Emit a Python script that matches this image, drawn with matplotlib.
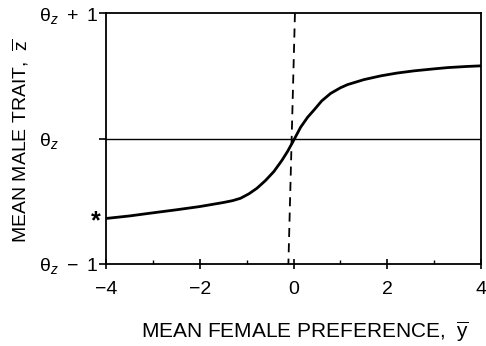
import matplotlib
matplotlib.use("Agg")
import matplotlib.pyplot as plt
from matplotlib.ticker import FixedLocator

plt.rcParams['font.family'] = ['Liberation Sans', 'DejaVu Sans']
plt.rcParams['mathtext.fontset'] = 'custom'
plt.rcParams['mathtext.rm'] = 'Liberation Sans'
plt.rcParams['mathtext.it'] = 'Liberation Sans:italic'
plt.rcParams['mathtext.bf'] = 'Liberation Sans:bold'

# Curve: mean male trait vs mean female preference
pref = [-4.0, -3.5, -3.06, -2.5, -2.0, -1.5, -1.3, -1.13, -0.95, -0.78, -0.6, -0.42,
        -0.25, -0.13, 0.0, 0.15, 0.3, 0.43, 0.6, 0.79, 1.0, 1.15, 1.5, 1.86, 2.2,
        2.57, 3.0, 3.29, 3.7, 4.0]
trait = [-0.637, -0.617, -0.595, -0.568, -0.542, -0.51, -0.495, -0.476, -0.44, -0.396,
         -0.335, -0.263, -0.175, -0.104, -0.016, 0.09, 0.17, 0.225, 0.30, 0.36, 0.405,
         0.43, 0.47, 0.50, 0.522, 0.54, 0.556, 0.566, 0.575, 0.58]

# Dashed line end points
dash_x = [0.03, -0.11]
dash_y = [1.0, -1.0]

xticks = [-4, -2, 0, 2, 4]
xticklabels = ['\u22124', '\u22122', '0', '2', '4']
xminor = [-3, -1, 1, 3]
yticks = [-1, 0, 1]
yticklabels = ['$\\mathrm{\u03b8}_z\\ \u2212\\ 1$', '$\\mathrm{\u03b8}_z$',
               '$\\mathrm{\u03b8}_z\\ +\\ 1$']
star_y = -0.66

fig = plt.figure(figsize=(4.86, 3.46), dpi=100)
ax = fig.add_axes([0.218, 0.237, 0.772, 0.725])

ax.plot(pref, trait, color='black', lw=2.0, solid_capstyle='butt')
ax.plot(dash_x, dash_y, color='black', lw=1.3, linestyle=(0, (5, 3.5)))
ax.axhline(0, color='black', lw=1.0)

ax.set_xlim(-4, 4)
ax.set_ylim(-1, 1)
ax.set_xticks(xticks)
ax.set_xticklabels(xticklabels, fontsize=14)
ax.xaxis.set_minor_locator(FixedLocator(xminor))
ax.set_yticks(yticks)
ax.set_yticklabels(yticklabels, fontsize=14)

ax.tick_params(axis='x', which='major', direction='inout', length=7, width=1.2, pad=9)
ax.tick_params(axis='y', which='major', direction='out', length=5, width=1.2, pad=43)
ax.tick_params(axis='x', which='minor', direction='in', length=3, width=1.0)
for lab in ax.get_yticklabels():
    lab.set_horizontalalignment('left')

for s in ax.spines.values():
    s.set_linewidth(1.3)

ax.set_xlabel(r'MEAN FEMALE PREFERENCE,  $\overline{\mathrm{y}}$', fontsize=15)
ax.xaxis.set_label_coords(0.53, -0.222)
ax.set_ylabel(r'MEAN MALE TRAIT,  $\overline{\mathrm{z}}$', fontsize=14)
ax.yaxis.set_label_coords(-0.2, 0.49)

ax.text(-4.12, star_y, '*', fontsize=18, fontweight='bold', ha='right', va='center',
        clip_on=False)

fig.savefig('out.png', dpi=100)
